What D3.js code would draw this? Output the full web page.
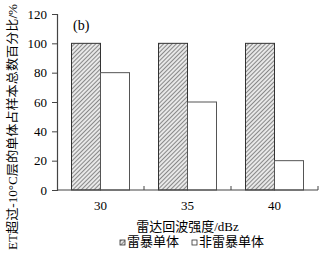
<!DOCTYPE html>
<html>
<head>
<meta charset="utf-8">
<script src="https://cdn.jsdelivr.net/npm/d3@7"></script>
<style>
  body { margin: 0; background: #fff; }
  text { font-family: "Liberation Serif", "Noto Sans CJK SC", serif; fill: #000; }
</style>
</head>
<body>
<div id="chart"></div>
<script>
// 雷达回波强度 vs 占比
const categories = ['30', '35', '40'];
const seriesNames = ['雷暴单体', '非雷暴单体'];
const stormValues = [100, 100, 100];
const nonStormValues = [80, 60, 20];
const yTicks = [0, 20, 40, 60, 80, 100, 120];

const width = 321, height = 256;
const margin = { top: 14, right: 3, bottom: 66, left: 57 };
const W = width - margin.left - margin.right;
const H = height - margin.top - margin.bottom;

const svg = d3.select('#chart').append('svg')
  .attr('width', width).attr('height', height);

const defs = svg.append('defs');
const pat = defs.append('pattern').attr('id', 'hatch')
  .attr('patternUnits', 'userSpaceOnUse').attr('width', 3).attr('height', 3)
  .attr('patternTransform', 'rotate(45)');
pat.append('rect').attr('width', 3).attr('height', 3).attr('fill', '#e8e8e8');
pat.append('line').attr('x1', 0).attr('y1', 0).attr('x2', 0).attr('y2', 3)
  .attr('stroke', '#555').attr('stroke-width', 1.3);

const g = svg.append('g').attr('transform', `translate(${margin.left},${margin.top})`);

const x = d3.scaleBand().domain(categories).range([0, W]).padding(0);
const y = d3.scaleLinear().domain([0, 120]).range([H, 0]);
const xs = d3.scaleBand().domain(seriesNames).range([0, x.bandwidth()]).paddingInner(0).paddingOuter(0.5);

const rows = categories.map((c, i) => ({ cat: c, vals: [stormValues[i], nonStormValues[i]] }));

rows.forEach(r => {
  r.vals.forEach((v, j) => {
    g.append('rect')
      .attr('x', x(r.cat) + xs(seriesNames[j]))
      .attr('y', y(v))
      .attr('width', xs.bandwidth())
      .attr('height', H - y(v))
      .attr('fill', j === 0 ? 'url(#hatch)' : '#fff')
      .attr('stroke', j === 0 ? '#333' : '#555')
      .attr('stroke-width', 1);
  });
});

// y 轴
const yAxis = g.append('g')
  .call(d3.axisLeft(y).tickValues(yTicks).tickSize(5).tickPadding(5));
yAxis.select('.domain').attr('stroke', '#444').attr('stroke-width', 1.2);
yAxis.selectAll('.tick line').attr('stroke', '#444');
yAxis.selectAll('text').attr('font-size', '13px')
  .style('font-family', '"Liberation Serif", serif');

// x 轴
g.append('line').attr('x1', 0).attr('x2', W).attr('y1', H).attr('y2', H)
  .attr('stroke', '#444').attr('stroke-width', 1.2);
categories.forEach(c => {
  const xe = x(c) + x.bandwidth();
  g.append('line').attr('x1', xe).attr('x2', xe).attr('y1', H).attr('y2', H - 4)
    .attr('stroke', '#444');
  g.append('text').attr('x', x(c) + x.bandwidth() / 2).attr('y', H + 20)
    .attr('text-anchor', 'middle').attr('font-size', '13px').text(c);
});

g.append('text').attr('x', W / 2).attr('y', H + 41)
  .attr('text-anchor', 'middle').attr('font-size', '13px').text('雷达回波强度/dBz');

g.append('text').attr('x', 16).attr('y', 16)
  .attr('font-size', '14px').text('(b)');

// y 轴标题
svg.append('text')
  .attr('transform', `translate(17,127) rotate(-90)`)
  .attr('text-anchor', 'middle').attr('font-size', '12px')
  .attr('textLength', 246).attr('lengthAdjust', 'spacingAndGlyphs')
  .text('ET超过-10°C层的单体占样本总数百分比/%');

// 图例
const legend = svg.append('g').attr('transform', `translate(120,${height - 11})`);
const legendX = [0, 72];
seriesNames.forEach((s, j) => {
  legend.append('rect').attr('x', legendX[j]).attr('y', -5).attr('width', 5).attr('height', 5)
    .attr('fill', j === 0 ? 'url(#hatch)' : '#fff').attr('stroke', '#333').attr('stroke-width', 0.8);
  legend.append('text').attr('x', legendX[j] + 7).attr('y', 0).attr('dy', '0.1em')
    .attr('font-size', '13px').text(s);
});
</script>
</body>
</html>
